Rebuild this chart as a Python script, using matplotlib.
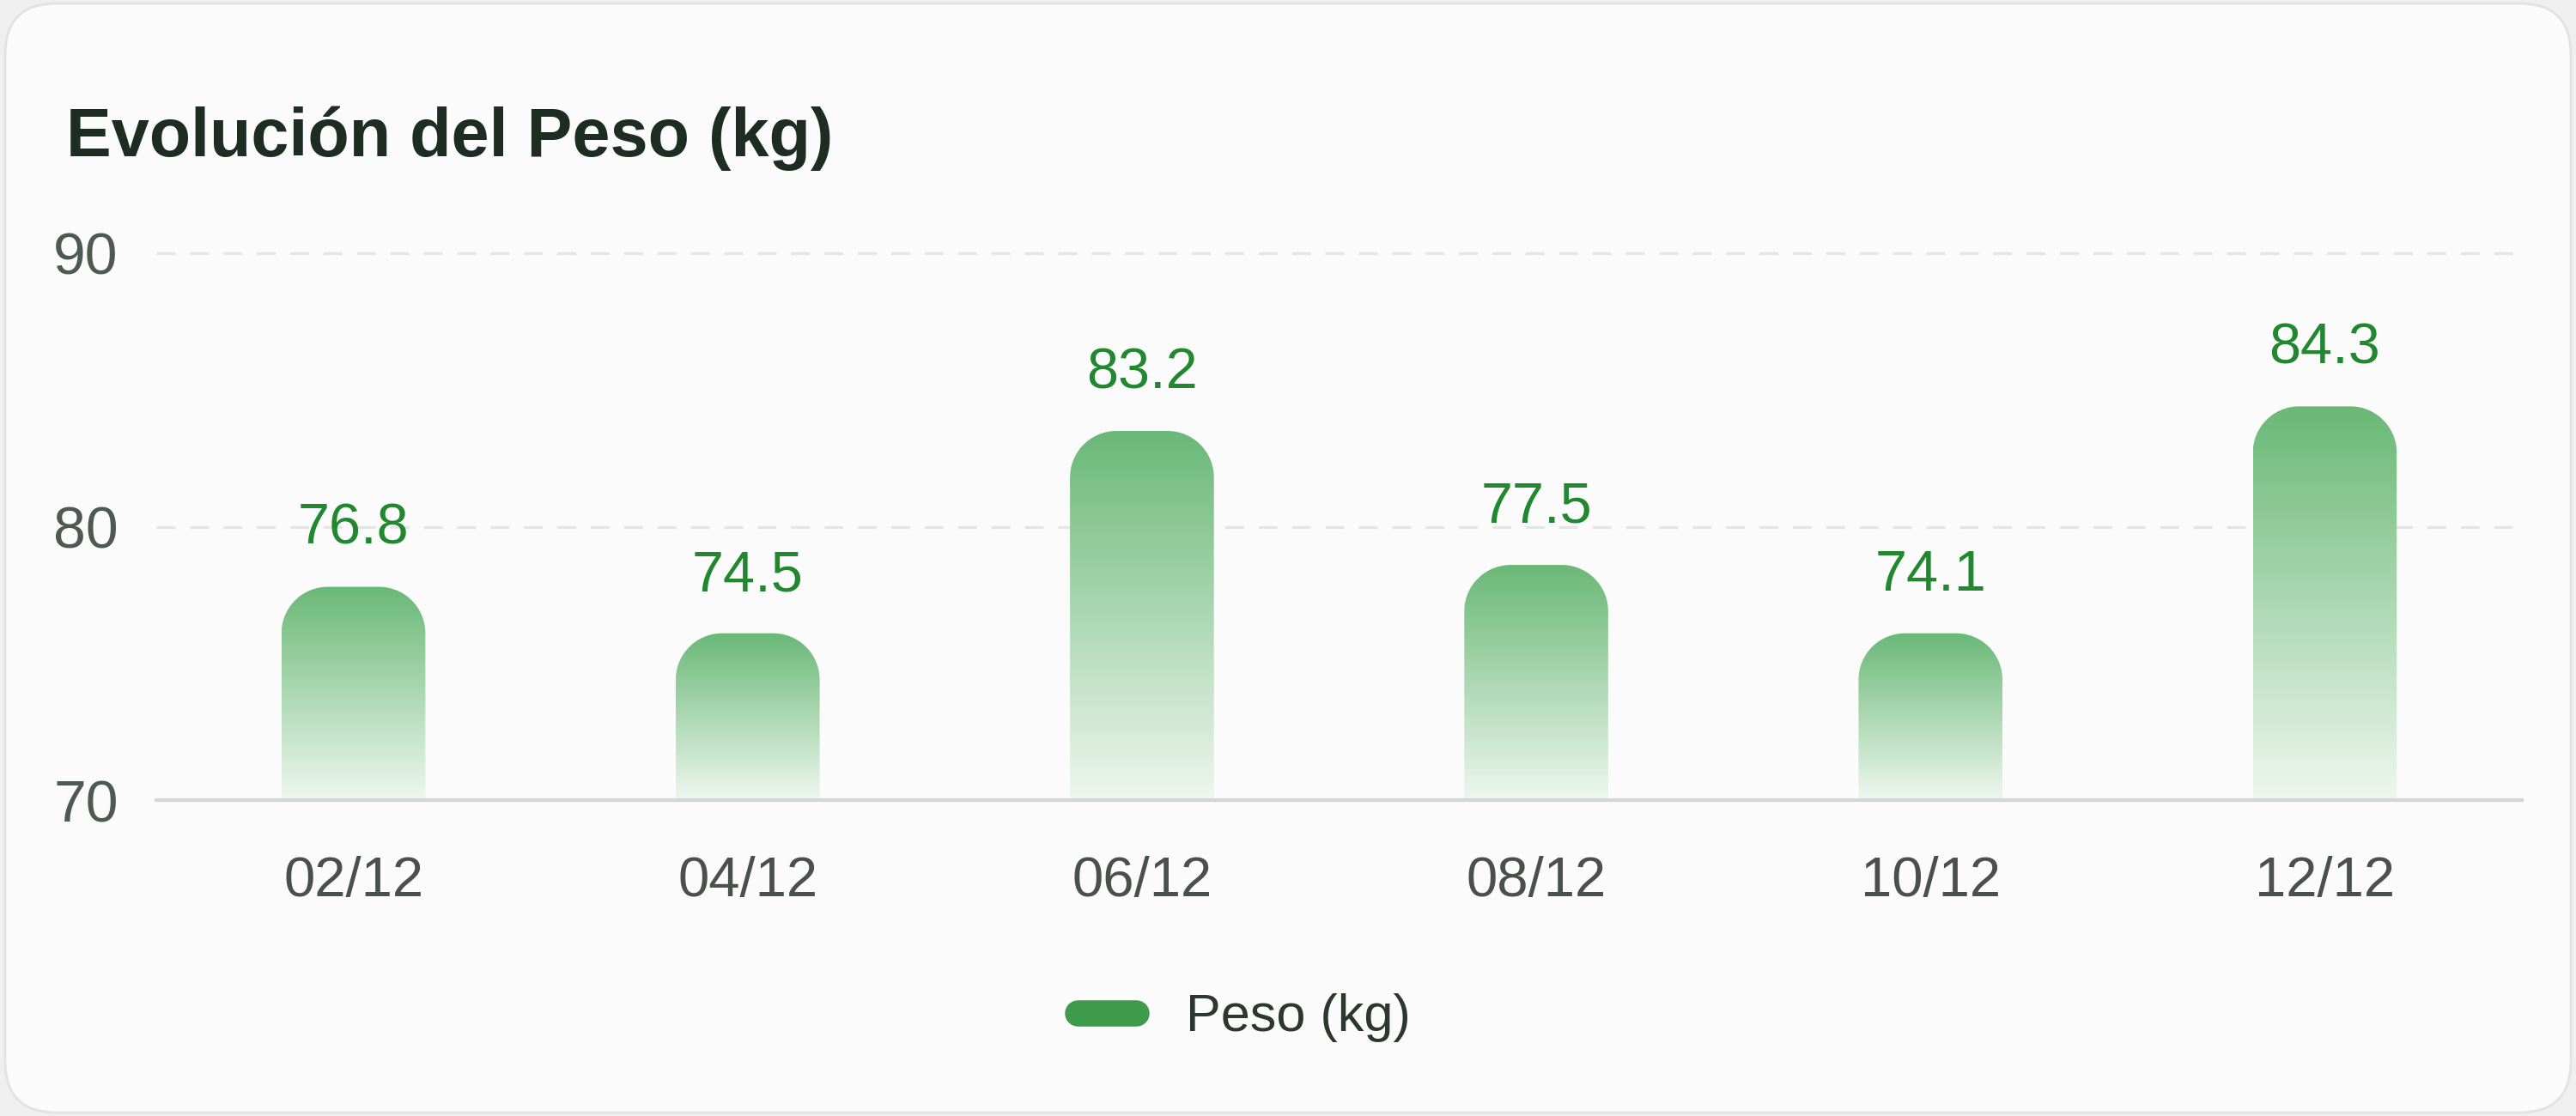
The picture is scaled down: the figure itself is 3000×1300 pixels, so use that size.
import numpy as np
import matplotlib
matplotlib.use("Agg")
import matplotlib.pyplot as plt
from matplotlib.colors import LinearSegmentedColormap
from matplotlib.patches import FancyBboxPatch, PathPatch
from matplotlib.path import Path
from matplotlib.lines import Line2D
from matplotlib.transforms import IdentityTransform

# ============================================================
# Data
# ============================================================
fechas = ["02/12", "04/12", "06/12", "08/12", "10/12", "12/12"]
# bar heights as drawn in the chart (kg)
altura_barras = [77.8, 76.1, 83.5, 78.6, 76.1, 84.4]
# values printed above the bars
etiquetas = ["76.8", "74.5", "83.2", "77.5", "74.1", "84.3"]
y_ticks = [70, 80, 90]

TITULO = "Evolución del Peso (kg)"
SERIE = "Peso (kg)"

VERDE_TEXTO = "#22882f"
VERDE_LEYENDA = "#3f9b4c"
GRAD_CMAP = LinearSegmentedColormap.from_list(
    "barra", [(0.0, "#eef7ef"), (0.5, "#acd8b2"), (1.0, "#6ab877")]
)

plt.rcParams["font.family"] = ["Liberation Sans", "DejaVu Sans"]

W, H = 3000, 1300
fig = plt.figure(figsize=(W / 100, H / 100), dpi=100)
fig.patch.set_facecolor("#efefef")

# card background
card = FancyBboxPatch((6, 4), W - 12, H - 8,
                      boxstyle="round,pad=0,rounding_size=60",
                      transform=IdentityTransform(),
                      facecolor="#fbfbfb", edgecolor="#e2e2e2", linewidth=2,
                      zorder=-10)
fig.add_artist(card)

fig.text(77 / W, 1 - 182 / H, TITULO, fontsize=57, fontweight="bold",
         color="#1e2d22", ha="left", va="baseline")

ax = fig.add_axes([182 / W, 1 - 932 / H, (2937 - 182) / W, (932 - 295) / H])
ax.set_facecolor("none")

x = np.arange(len(fechas))
barras = ax.bar(x, [h - 70 for h in altura_barras], bottom=70, width=0.365,
                facecolor="none", edgecolor="none", label=SERIE)

ax.set_xlim(-0.5, len(fechas) - 0.5)
ax.set_ylim(70, 90)

# rounded tops with vertical gradient
px_x = ax.transData.transform((1, 0))[0] - ax.transData.transform((0, 0))[0]
px_y = ax.transData.transform((0, 1))[1] - ax.transData.transform((0, 0))[1]
radio = 54
rx, ry = radio / px_x, radio / px_y
grad = np.linspace(0, 1, 256).reshape(-1, 1)

for rect, txt in zip(barras, etiquetas):
    x0, y0 = rect.get_x(), rect.get_y()
    w, h = rect.get_width(), rect.get_height()
    top = y0 + h
    t1 = np.linspace(np.pi, np.pi / 2, 24)
    t2 = np.linspace(np.pi / 2, 0, 24)
    verts = [(x0, y0), (x0, top - ry)]
    verts += [(x0 + rx + rx * np.cos(t), top - ry + ry * np.sin(t)) for t in t1]
    verts += [(x0 + w - rx + rx * np.cos(t), top - ry + ry * np.sin(t)) for t in t2]
    verts += [(x0 + w, y0), (x0, y0)]
    codes = [Path.MOVETO] + [Path.LINETO] * (len(verts) - 2) + [Path.CLOSEPOLY]
    patch = PathPatch(Path(verts, codes), facecolor="none", edgecolor="none",
                      transform=ax.transData)
    ax.add_patch(patch)
    im = ax.imshow(grad, extent=(x0, x0 + w, y0, top), origin="lower",
                   aspect="auto", cmap=GRAD_CMAP, zorder=2)
    im.set_clip_path(patch)

    ax.annotate(txt, (x0 + w / 2, top), xytext=(0, 48),
                textcoords="offset points", ha="center", va="center",
                fontsize=48, color=VERDE_TEXTO, zorder=3)

ax.set_xlim(-0.5, len(fechas) - 0.5)
ax.set_ylim(70, 90)

ax.set_xticks(x)
ax.set_xticklabels(fechas, fontsize=47, color="#4a504c")
ax.set_yticks(y_ticks)
ax.set_yticklabels([str(v) for v in y_ticks], fontsize=49, color="#4d5a52")
ax.tick_params(axis="x", length=0, pad=47)
ax.tick_params(axis="y", length=0, pad=32)

for s in ["top", "right", "left"]:
    ax.spines[s].set_visible(False)
ax.spines["bottom"].set_color("#d3d6d4")
ax.spines["bottom"].set_linewidth(3)
ax.spines["bottom"].set_zorder(4)

for v in y_ticks[1:]:
    ax.axhline(v, color="#e4e6e5", linewidth=2.5, linestyle=(0, (6.3, 4.9)),
               zorder=1, clip_on=False)

handle = Line2D([0], [0], color=VERDE_LEYENDA, lw=22, solid_capstyle="round")
fig.legend(handles=[handle], labels=[SERIE], loc="center",
           bbox_to_anchor=(0.483, 1 - 1186 / H), frameon=False, fontsize=44,
           handlelength=1.1, handletextpad=0.95, labelcolor="#2b3830")

fig.savefig("out.png", dpi=100, facecolor=fig.get_facecolor())
plt.close(fig)
